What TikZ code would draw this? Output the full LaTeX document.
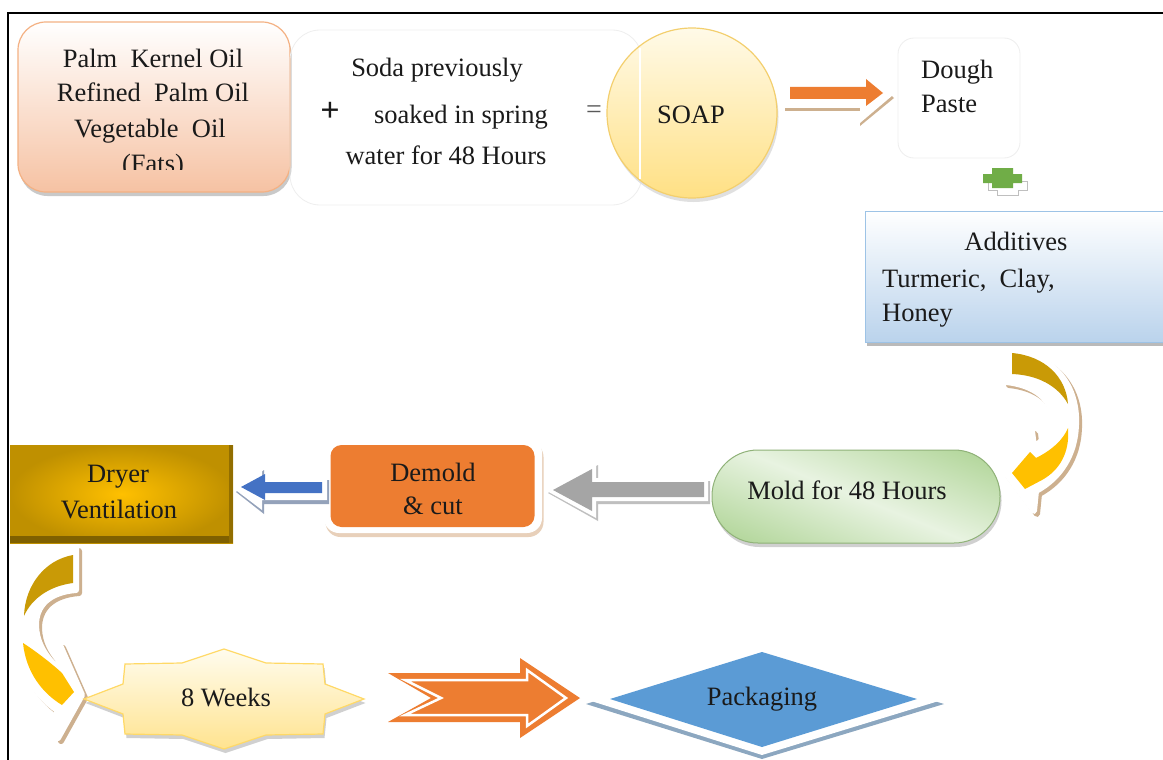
\documentclass[tikz,border=0pt]{standalone}
\usepackage{fontspec}
\setmainfont{Liberation Serif}
\usetikzlibrary{calc,shadows}
\definecolor{peach}{HTML}{F6C2A3}
\definecolor{peachline}{HTML}{F4B183}
\definecolor{faint}{HTML}{EEEEEE}
\definecolor{soaptop}{HTML}{FFFAE8}
\definecolor{soapbot}{HTML}{FFE084}
\definecolor{soapline}{HTML}{F3CF6E}
\definecolor{orng}{HTML}{ED7D31}
\definecolor{tan}{HTML}{CDB08F}
\definecolor{grn}{HTML}{70AD47}
\definecolor{addbot}{HTML}{BAD3EC}
\definecolor{addline}{HTML}{9DC3E6}
\definecolor{darkgold}{HTML}{C99A06}
\definecolor{yel}{HTML}{FFC000}
\definecolor{moldg}{HTML}{A9D18E}
\definecolor{moldl}{HTML}{E8F3E1}
\definecolor{grayar}{HTML}{A5A5A5}
\definecolor{bluear}{HTML}{4472C4}
\definecolor{goldc}{HTML}{FFC000}
\definecolor{goldo}{HTML}{BF9000}
\definecolor{golddk}{HTML}{7F6000}
\definecolor{startop}{HTML}{FFFCEE}
\definecolor{starbot}{HTML}{FFE38F}
\definecolor{starline}{HTML}{FFD966}
\definecolor{diam}{HTML}{5B9BD5}
\definecolor{txtc}{HTML}{1A1A1A}
\pgfdeclareverticalshading{moldsh}{100bp}{color(0bp)=(moldg); color(33bp)=(moldg); color(50bp)=(moldl); color(67bp)=(moldg); color(100bp)=(moldg)}
\tikzset{
  txt/.style={font=\fontsize{26.5}{34}\selectfont, inner sep=0pt, text=txtc},
  lbl/.style={txt, anchor=base},
  lbll/.style={txt, anchor=base west},
  sh/.style={drop shadow={shadow xshift=1.5pt, shadow yshift=-4pt, fill=#1, opacity=0.6}},
  sh/.default=black!35,
  outl/.style={fill=white, draw=white, line width=6pt, line join=round},
  shadowcol/.style={fill=#1, draw=#1, line width=6pt, line join=round},
}
\begin{document}
\begin{tikzpicture}[x=1pt,y=-1pt]
\useasboundingbox (0,0) rectangle (1163,760);
\fill[white] (0,0) rectangle (1163,760);
\draw[line width=2pt] (8,760) -- (8,13) -- (1163,13);

% ---------- Palm oils box
\node[draw=peachline, line width=1.2pt, rounded corners=28pt, top color=white, bottom color=peach,
      minimum width=272pt, minimum height=170pt, sh] (palm) at (154,107) {};
\begin{scope}
  \clip (18,22) rectangle (290,169);
  \node[lbl] (palm1) at (153,67) {Palm\ \ Kernel Oil};
  \node[lbl] (palm2) at (153,102) {Refined\ \ Palm\ Oil};
  \node[lbl] (palm3) at (150,137) {Vegetable\ \ Oil};
  \node[lbl] (palm4) at (153,172) {(Fats)};
\end{scope}

% ---------- Soda box
\node[draw=faint, line width=0.8pt, rounded corners=30pt, minimum width=352pt, minimum height=175pt] (soda) at (466,117.5) {};
\node[lbl] (soda1) at (437,77) {Soda previously};
\node[font=\fontsize{34}{36}\selectfont\bfseries, inner sep=0pt, text=txtc] (plus) at (330,112) {+};
\node[lbl] (soda2) at (461,124) {soaked in\ spring};
\node[lbl] (soda3) at (446,164) {water\ for 48 Hours};
\node[font=\fontsize{28}{30}\selectfont, inner sep=0pt, text=black!65] (eq) at (594,112) {=};

% ---------- SOAP circle
\node[circle, minimum size=170pt, draw=soapline, line width=1.2pt, top color=soaptop, bottom color=soapbot, sh=black!20] (soap) at (692,113) {};
\draw[white, line width=1.5pt] (640,48) -- (640,179);
\node[lbl] (soapt) at (691,123) {SOAP};

% ---------- Orange arrow soap -> dough
\fill[tan] (785,85) -- (860,85) -- (860,68) -- (894,98) -- (860,126) -- (860,111) -- (785,111) -- cycle;
\fill[white] (785,82) -- (860,82) -- (860,65) -- (893,95) -- (860,123) -- (860,108) -- (785,108) -- cycle;
\fill[orng] (790,87) -- (866,87) -- (866,79) -- (883,93) -- (866,106) -- (866,99) -- (790,99) -- cycle;

% ---------- Dough box
\node[draw=faint, line width=0.8pt, rounded corners=16pt, minimum width=122pt, minimum height=120pt] (dough) at (959,98) {};
\node[lbll] (dough1) at (921,79) {Dough};
\node[lbll] (dough2) at (921,113) {Paste};

% ---------- Green connector
\begin{scope}[shift={(5,7)}]
\draw[black!25, fill=white, line width=1pt] (992,168) -- (1013,168) -- (1013,174) -- (1022,174) -- (1022,183) -- (1013,183) -- (1013,188) -- (992,188) -- (992,183) -- (983,183) -- (983,174) -- (992,174) -- cycle;
\end{scope}
\fill[grn] (992,168) -- (1013,168) -- (1013,174) -- (1022,174) -- (1022,183) -- (1013,183) -- (1013,188) -- (992,188) -- (992,183) -- (983,183) -- (983,174) -- (992,174) -- cycle;

% ---------- Additives
\node[draw=addline, line width=1pt, top color=white, bottom color=addbot, minimum width=300pt, minimum height=131pt, sh=black!45] (add) at (1015,276.5) {};
\node[lbl] (add1) at (1016,250) {Additives};
\node[lbll] (add2) at (882,287) {Turmeric,\ \ Clay,};
\node[lbll] (add3) at (882,321) {Honey};

% ---------- Right curved arrow
\begin{scope}[shift={(3,3)}]
\path[shadowcol=tan] (1006,351) .. controls (1050,352) and (1078,382) .. (1076,425) .. controls (1075,455) and (1060,478) .. (1036,491) -- (1034,511) -- (1005,472) -- (1032,431) -- (1034,447) .. controls (1045,439) and (1052,430) .. (1052,418) .. controls (1052,400) and (1035,385) .. (1006,382) -- cycle;
\end{scope}
\path[outl] (1006,351) .. controls (1050,352) and (1078,382) .. (1076,425) .. controls (1075,455) and (1060,478) .. (1036,491) -- (1034,511) -- (1005,472) -- (1032,431) -- (1034,447) .. controls (1045,439) and (1052,430) .. (1052,418) .. controls (1052,400) and (1035,385) .. (1006,382) -- cycle;
\fill[darkgold] (1012,353) .. controls (1045,356) and (1066,377) .. (1068,404) .. controls (1058,386) and (1038,375) .. (1012,374) -- cycle;
\fill[yel] (1068,428) .. controls (1070,452) and (1060,470) .. (1042,480) -- (1025,489) -- (1012,473) -- (1030,452) -- (1036,458) .. controls (1052,450) and (1063,440) .. (1068,428) -- cycle;

% ---------- Mold
\node[fill=moldg, rounded corners=46pt, minimum width=288pt, minimum height=93pt, sh=black!30] (mold) at (856,496.5) {};
\begin{scope}
  \clip[rounded corners=46pt] (712,450) rectangle (1000,543);
  \path[shading=moldsh, shading angle=-22] (706,346.5) rectangle (1006,646.5);
\end{scope}
\draw[moldg!85!black, line width=1pt, rounded corners=46pt] (712,450) rectangle (1000,543);
\node[lbl] (moldt) at (847,499) {Mold for 48 Hours};

% ---------- Gray arrow mold -> demold
\fill[black!25] (710,481) -- (598,481) -- (598,465) -- (548,493) -- (598,521) -- (598,504) -- (710,504) -- cycle;
\fill[white] (708,478) -- (596,478) -- (596,462) -- (545,490) -- (596,518) -- (596,501) -- (708,501) -- cycle;
\fill[grayar] (704,482) -- (592,482) -- (592,469) -- (553,490) -- (592,511) -- (592,497) -- (704,497) -- cycle;

% ---------- Demold
\node[fill=white, rounded corners=15pt, minimum width=218pt, minimum height=95pt, sh=brown!60] (demoldo) at (433,485.5) {};
\node[fill=orng, rounded corners=11pt, minimum width=204pt, minimum height=82pt] (demold) at (432.5,486) {};
\node[lbl] (demold1) at (433,481) {Demold};
\node[lbl] (demold2) at (433,514) {\&\ cut};

% ---------- Blue arrow demold -> dryer
\fill[black!40!bluear!50] (329,480) -- (264,480) -- (264,470) -- (236,492) -- (264,514) -- (264,504) -- (329,504) -- cycle;
\fill[white] (327,476) -- (262,476) -- (262,466) -- (233,488) -- (262,510) -- (262,500) -- (327,500) -- cycle;
\fill[bluear] (322,482) -- (265,482) -- (265,474) -- (241,487) -- (265,500) -- (265,493) -- (322,493) -- cycle;

% ---------- Dryer
\node[inner color=goldc, outer color=goldo, minimum width=223pt, minimum height=98pt] (dryer) at (121.5,494) {};
\fill[golddk] (10,536) rectangle (233,543);
\fill[golddk!70!goldo] (229,445) rectangle (233,543);
\node[lbl] (dryer1) at (118,482) {Dryer};
\node[lbl] (dryer2) at (119,518) {Ventilation};

% ---------- Left curved arrow
\begin{scope}[shift={(3,3)}]
\path[shadowcol=tan] (76,548) .. controls (35,555) and (12,590) .. (14,630) .. controls (16,665) and (35,695) .. (57,710) -- (58,738) -- (82,695) -- (60,645) -- (58,668) .. controls (44,656) and (36,640) .. (36,625) .. controls (36,605) and (50,592) .. (76,590) -- cycle;
\end{scope}
\path[outl] (76,548) .. controls (35,555) and (12,590) .. (14,630) .. controls (16,665) and (35,695) .. (57,710) -- (58,738) -- (82,695) -- (60,645) -- (58,668) .. controls (44,656) and (36,640) .. (36,625) .. controls (36,605) and (50,592) .. (76,590) -- cycle;
\fill[darkgold] (73,555) .. controls (45,560) and (25,585) .. (24,616) .. controls (32,598) and (50,586) .. (73,583) -- cycle;
\fill[yel] (23,643) .. controls (34,650) and (50,662) .. (62,673) -- (74,692) -- (62,705) .. controls (42,693) and (26,672) .. (23,643) -- cycle;

% ---------- 8 Weeks star
\coordinate (wk) at (224,699);
\path[sh=black!30, draw=starline, line width=1.2pt, top color=startop, bottom color=starbot]
  (364,699) -- (325,714) -- (323,734) -- (266,735) -- (224,749) -- (182,735) -- (125,734) -- (123,714) --
  (84,699) -- (123,684) -- (125,664) -- (182,663) -- (224,649) -- (266,663) -- (323,664) -- (325,684) -- cycle;
\node[lbl] (weeks) at (226,706) {8 Weeks};

% ---------- Notched orange arrow
\fill[orng] (388,673) -- (520,673) -- (520,658) -- (580,698) -- (520,738) -- (520,722) -- (388,722) -- (431,698) -- cycle;
\draw[white, line width=2.5pt, line join=miter] (405,680) -- (527,680) -- (527,670) -- (566,698) -- (527,726) -- (527,715) -- (405,715) -- (441,698) -- cycle;

% ---------- Packaging diamond
\fill[black!30!diam!60] (586,704) -- (762,649) -- (944,704) -- (762,759) -- cycle;
\fill[white] (588,700) -- (762,645) -- (942,700) -- (762,755) -- cycle;
\fill[diam] (610,699) -- (762,652) -- (917,699) -- (762,747) -- cycle;
\node[lbl] (pack) at (762,705) {Packaging};
\end{tikzpicture}
\end{document}
